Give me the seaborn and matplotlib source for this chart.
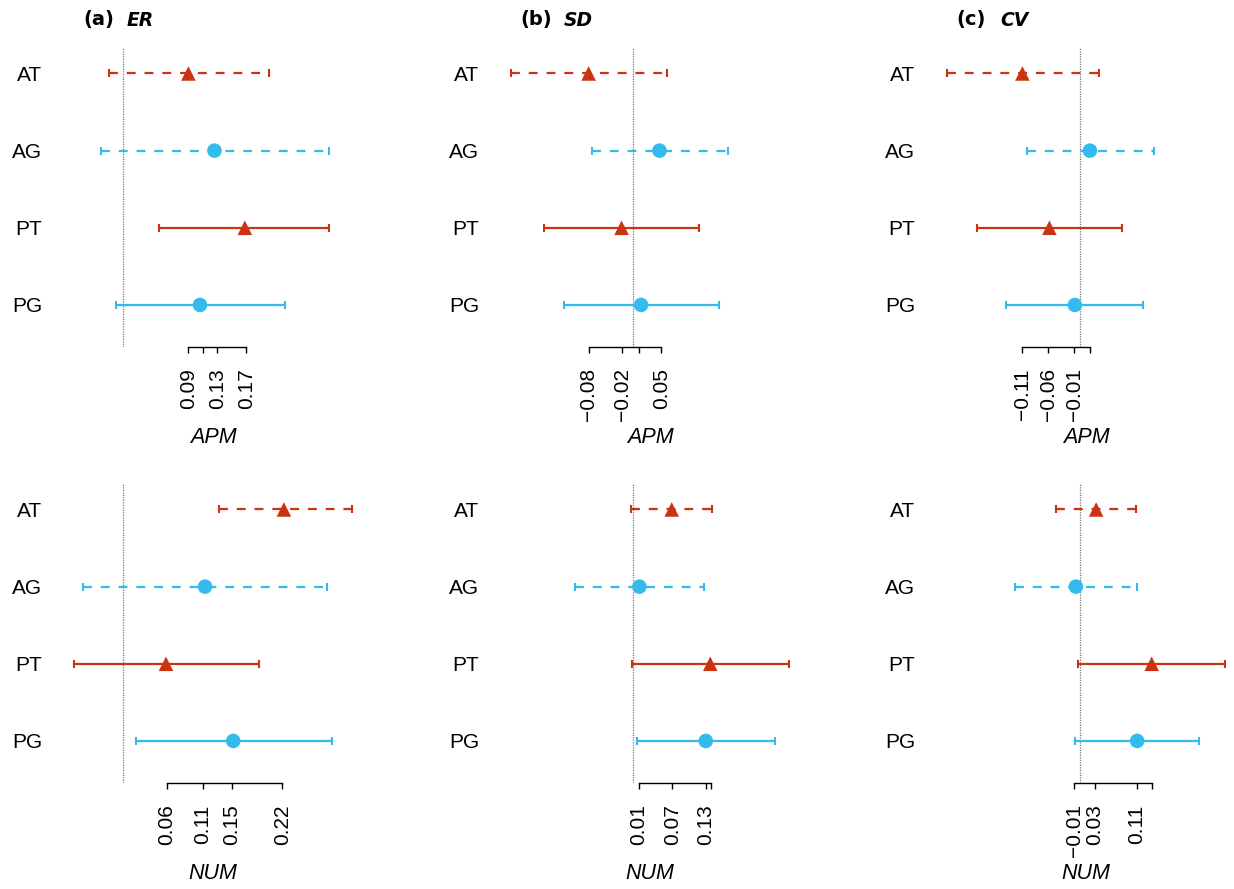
import pandas as pd
import matplotlib
matplotlib.use('Agg')
import matplotlib.pyplot as plt
import seaborn as sns

sns.set_theme(style='white')
plt.rcParams['font.family'] = ['Liberation Sans', 'DejaVu Sans']
plt.rcParams['axes.unicode_minus'] = True
plt.rcParams.update({'text.color': 'black', 'axes.labelcolor': 'black',
                     'xtick.color': 'black', 'ytick.color': 'black'})

# rows of every panel, top to bottom
rows = ['AT', 'AG', 'PT', 'PG']
shape = ['T', 'G', 'T', 'G']      # T -> triangle, G -> circle
phase = ['A', 'A', 'P', 'P']      # A -> dashed CI, P -> solid CI

# (a) ER
er_apm_est = [0.090, 0.126, 0.168, 0.106]
er_apm_lo = [-0.020, -0.031, 0.050, -0.010]
er_apm_hi = [0.201, 0.284, 0.285, 0.223]
er_num_est = [0.222, 0.113, 0.059, 0.152]
er_num_lo = [0.132, -0.056, -0.068, 0.017]
er_num_hi = [0.316, 0.281, 0.187, 0.289]

# (b) SD
sd_apm_est = [-0.080, 0.047, -0.021, 0.014]
sd_apm_lo = [-0.219, -0.074, -0.160, -0.124]
sd_apm_hi = [0.060, 0.169, 0.118, 0.153]
sd_num_est = [0.069, 0.011, 0.138, 0.130]
sd_num_lo = [-0.004, -0.105, -0.003, 0.006]
sd_num_hi = [0.142, 0.126, 0.279, 0.254]

# (c) CV
cv_apm_est = [-0.110, 0.020, -0.058, -0.009]
cv_apm_lo = [-0.255, -0.101, -0.197, -0.142]
cv_apm_hi = [0.037, 0.144, 0.081, 0.123]
cv_num_est = [0.032, -0.007, 0.139, 0.111]
cv_num_lo = [-0.046, -0.125, -0.003, -0.009]
cv_num_hi = [0.109, 0.110, 0.280, 0.231]

panel_tags = ['(a)', '(b)', '(c)']
outcomes = ['ER', 'SD', 'CV']
predictors = ['APM', 'NUM']

panels = {
    ('ER', 'APM'): (er_apm_est, er_apm_lo, er_apm_hi),
    ('ER', 'NUM'): (er_num_est, er_num_lo, er_num_hi),
    ('SD', 'APM'): (sd_apm_est, sd_apm_lo, sd_apm_hi),
    ('SD', 'NUM'): (sd_num_est, sd_num_lo, sd_num_hi),
    ('CV', 'APM'): (cv_apm_est, cv_apm_lo, cv_apm_hi),
    ('CV', 'NUM'): (cv_num_est, cv_num_lo, cv_num_hi),
}

colors = {'T': '#CC3311', 'G': '#33BBEE'}
markers = {'T': '^', 'G': 'o'}
dash = (0, (4, 4))

W, H = 1234, 889
fig = plt.figure(figsize=(W / 100, H / 100), dpi=100)
col_left = [63, 500, 936]
row_top = [48, 484]
pw, ph = 300, 299


def add_px_axes(left, top):
    return fig.add_axes([left / W, 1 - (top + ph) / H, pw / W, ph / H])


for c, outcome in enumerate(outcomes):
    # shared x range for the column, padded 4% like R
    lo_all = min(min(panels[(outcome, p)][1]) for p in predictors)
    hi_all = max(max(panels[(outcome, p)][2]) for p in predictors)
    pad = 0.04 * (hi_all - lo_all)
    xlim = (lo_all - pad, hi_all + pad)

    for r, pred in enumerate(predictors):
        est, lo, hi = panels[(outcome, pred)]
        df = pd.DataFrame({'row': rows, 'y': range(len(rows)), 'est': est,
                           'lo': lo, 'hi': hi, 'shape': shape, 'phase': phase})
        ax = add_px_axes(col_left[c], row_top[r])

        ax.axvline(0, color='#777777', ls=(0, (1, 1)), lw=0.9, zorder=0)

        for _, d in df.iterrows():
            eb = ax.errorbar(x=d['est'], y=d['y'],
                             xerr=[[d['est'] - d['lo']], [d['hi'] - d['est']]],
                             fmt='none', ecolor=colors[d['shape']], elinewidth=1.6,
                             capsize=2.9, capthick=1.5, zorder=2)
            if d['phase'] == 'A':
                eb.lines[2][0].set_linestyle(dash)

        sns.scatterplot(data=df, x='est', y='y', hue='shape', style='shape',
                        palette=colors, markers=markers, s=110, linewidth=0,
                        legend=False, zorder=3, ax=ax)

        ax.set_xlim(*xlim)
        ax.set_ylim(3.545, -0.33)
        ax.set_yticks(range(len(rows)))
        ax.set_yticklabels(rows, fontsize=15)
        ax.tick_params(axis='y', length=0, pad=15)

        # ticks at the rounded estimates, R-style axis spanning the ticks only
        ticks = sorted(set(round(v, 2) for v in est))
        labels = []
        last = None
        for t in ticks:
            xp = ax.transData.transform((t, 0))[0]
            if last is None or abs(xp - last) > 18:
                labels.append(f'{t:.2f}'.replace('-', '\u2212'))
                last = xp
            else:
                labels.append('')
        ax.set_xticks(ticks)
        ax.set_xticklabels(labels, rotation=90, fontsize=15)
        ax.tick_params(axis='x', bottom=True, length=4.3, width=1, pad=11,
                       color='black', labelcolor='black')

        for s in ['top', 'right', 'left']:
            ax.spines[s].set_visible(False)
        ax.spines['bottom'].set_bounds(ticks[0], ticks[-1])
        ax.spines['bottom'].set_color('black')
        ax.spines['bottom'].set_linewidth(1)

        ax.set_ylabel('')
        ax.set_xlabel(pred, fontsize=15.5, style='italic')
        ax.xaxis.set_label_coords(0.5, -0.304)
        ax.xaxis.label.set_va('center')
        ax.grid(False)
        ax.set_facecolor('none')

    fig.text((col_left[c] + 20) / W, 1 - 20 / H, panel_tags[c], family='DejaVu Sans',
             fontweight='bold', fontsize=14, va='center', ha='left')
    fig.text((col_left[c] + 64) / W, 1 - 20 / H, outcome, family='DejaVu Sans',
             fontweight='bold', style='italic', fontsize=13.5, va='center', ha='left')

fig.savefig('out.png', dpi=100)
